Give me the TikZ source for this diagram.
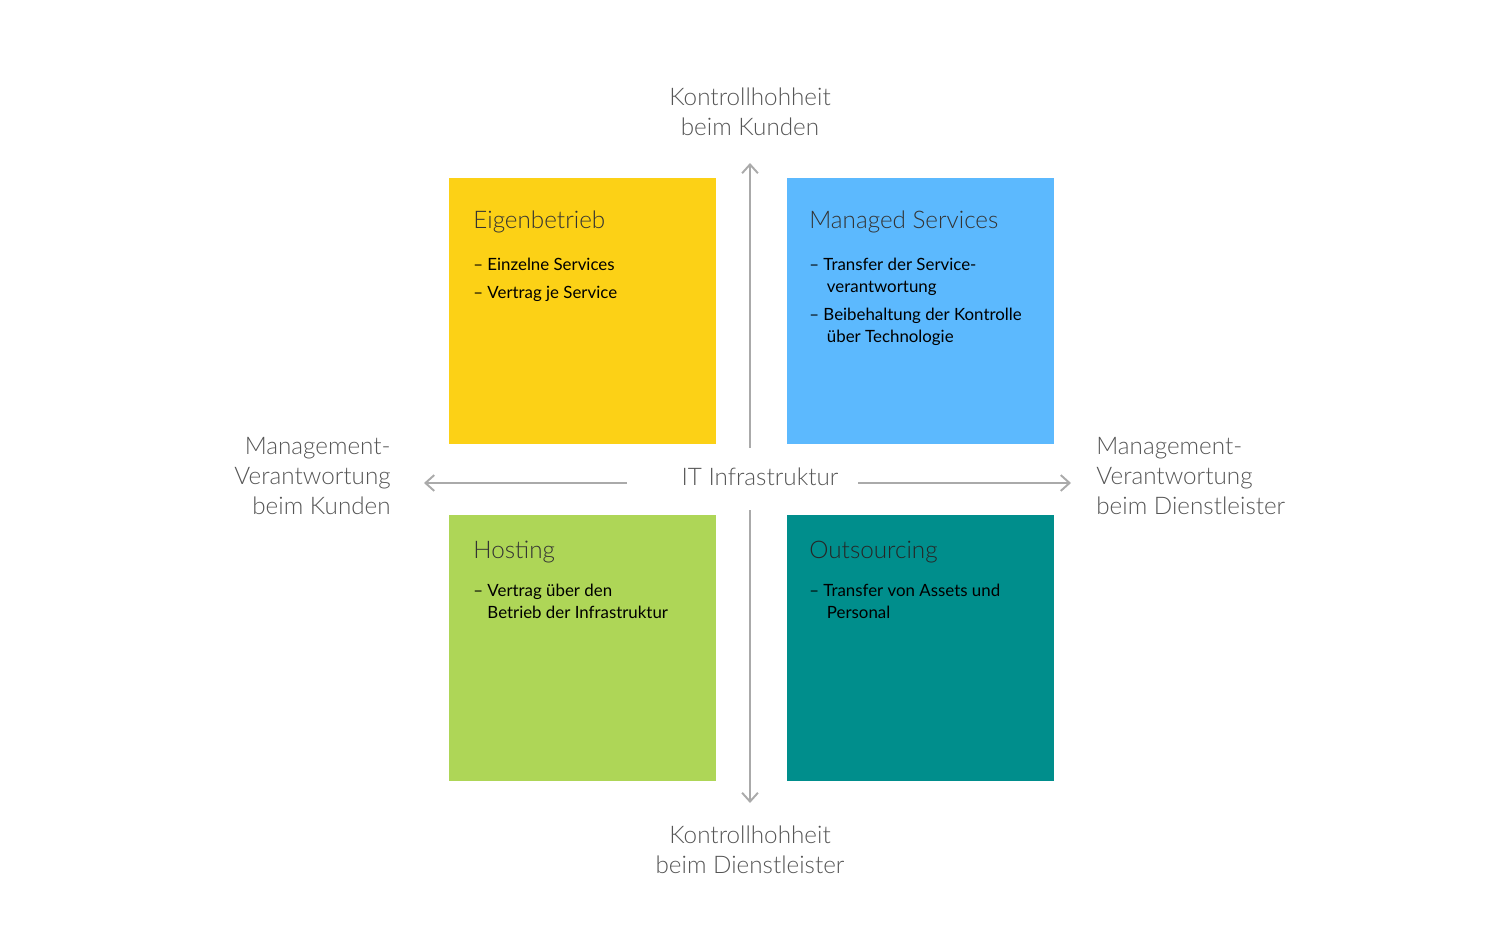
\documentclass[tikz,border=0pt]{standalone}
\usepackage{fontspec}
\setmainfont{Lato}
\newfontfamily\lightfont{Lato Light}
\usetikzlibrary{positioning}
\usetikzlibrary{arrows.meta}
\definecolor{cyellow}{HTML}{FCD116}
\definecolor{cblue}{HTML}{5CB9FE}
\definecolor{cgreen}{HTML}{AED657}
\definecolor{cteal}{HTML}{008E8C}
\definecolor{cgray}{HTML}{555555}
\definecolor{carrow}{HTML}{AAAAAA}
\tikzset{
    quad/.style = {draw=none, minimum width=5.34cm, minimum height=5.32cm, anchor=north west, inner sep=0pt},
    qtitle/.style = {anchor=base west, inner sep=0pt, font=\lightfont\fontsize{13.8}{16}\selectfont, text=#1},
    qitem/.style = {anchor=north west, inner sep=0pt, align=left, font=\fontsize{9.6}{12.5}\selectfont, text=#1},
    axis/.style = {align=center, inner sep=0pt, font=\lightfont\fontsize{13.8}{17}\selectfont, text=cgray},
    arr/.style = {-{Straight Barb[length=5pt,width=9pt]}, carrow, line width=1.1pt}
}
\begin{document}
\begin{tikzpicture}[x=0.02cm,y=-0.02cm]
  \useasboundingbox (0,0) rectangle (1500,950);
  % quadrants
  \node[quad, fill=cyellow] (eigen) at (449,178) {};
  \node[quad, fill=cblue] (managed) at (787,178) {};
  \node[quad, fill=cgreen] (hosting) at (449,515) {};
  \node[quad, fill=cteal] (outs) at (787,515) {};
  % titles
  \node[qtitle=black!80] (teigen) at (473,228) {Eigenbetrieb};
  \node[qtitle=black!80] (tmanaged) at (809,228) {Managed Services};
  \node[qtitle=black!80] (thosting) at (473,558) {Hosting};
  \node[qtitle=black!85] (touts) at (809,558) {Outsourcing};
  % items
  \node[qitem=black] (ieigen) at (473,258) {-- Einzelne Services\\[3.5pt]-- Vertrag je Service};
  \node[qitem=black] (imanaged) at (809,258) {-- Transfer der Service-\\\hspace*{2pt}\phantom{--} verantwortung\\[3.5pt]-- Beibehaltung der Kontrolle\\\hspace*{2pt}\phantom{--} über Technologie};
  \node[qitem=black] (ihosting) at (473,584) {-- Vertrag über den\\\phantom{--} Betrieb der Infrastruktur};
  \node[qitem=black] (iouts) at (809,584) {-- Transfer von Assets und\\\hspace*{2pt}\phantom{--} Personal};
  % axes
  \node[axis] (center) at (760,477) {IT Infrastruktur};
  \node[axis] (top) at (750,112) {Kontrollhohheit\\beim Kunden};
  \node[axis] (bottom) at (750,850) {Kontrollhohheit\\beim Dienstleister};
  \node[axis, align=right, anchor=east] (left) at (391,476) {Management-\\Verantwortung\\beim Kunden};
  \node[axis, align=left, anchor=west] (right) at (1096,476) {Management-\\Verantwortung\\beim Dienstleister};
  \coordinate (vtop) at (750,163);
  \coordinate (vtopfrom) at (750,448);
  \coordinate (vbot) at (750,803);
  \coordinate (vbotfrom) at (750,510);
  \coordinate (hleft) at (424,483);
  \coordinate (hleftfrom) at (627,483);
  \coordinate (hright) at (1071,483);
  \coordinate (hrightfrom) at (858,483);
  \draw[arr] (vtopfrom) -- (vtop);
  \draw[arr] (vbotfrom) -- (vbot);
  \draw[arr] (hleftfrom) -- (hleft);
  \draw[arr] (hrightfrom) -- (hright);
\end{tikzpicture}
\end{document}
